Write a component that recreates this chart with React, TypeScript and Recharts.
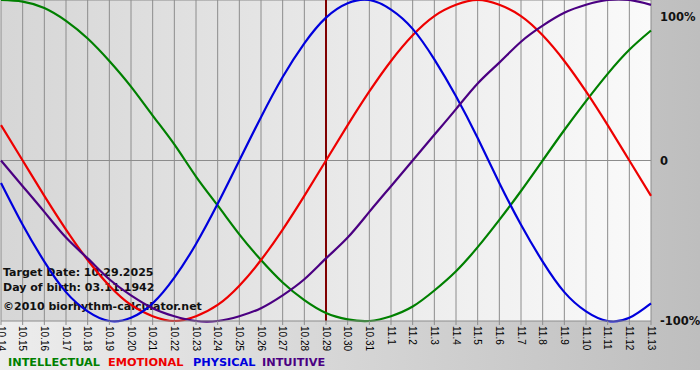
import { LineChart, Line, XAxis, YAxis, CartesianGrid, ReferenceLine } from 'recharts';

const DATES = [
  '10.14', '10.15', '10.16', '10.17', '10.18', '10.19', '10.20', '10.21', '10.22', '10.23',
  '10.24', '10.25', '10.26', '10.27', '10.28', '10.29', '10.30', '10.31', '11.1', '11.2',
  '11.3', '11.4', '11.5', '11.6', '11.7', '11.8', '11.9', '11.10', '11.11', '11.12', '11.13',
];

const PHYSICAL = [-14, -40, -63, -82, -94, -100, -98, -89, -73, -52, -27, 0, 27, 52, 73, 89, 98, 100, 94, 82, 63, 40, 14, -14, -40, -63, -82, -94, -100, -98, -89];
const EMOTIONAL = [22, 0, -22, -43, -62, -78, -90, -97, -100, -97, -90, -78, -62, -43, -22, 0, 22, 43, 62, 78, 90, 97, 100, 97, 90, 78, 62, 43, 22, 0, -22];
const INTELLECTUAL = [100, 99, 95, 87, 76, 62, 46, 28, 10, -10, -28, -46, -62, -76, -87, -95, -99, -100, -97, -91, -81, -69, -54, -37, -19, 0, 19, 37, 54, 69, 81];
const INTUITIVE = [0, -16, -32, -48, -61, -74, -84, -92, -97, -100, -100, -97, -92, -84, -74, -61, -48, -32, -16, 0, 16, 32, 48, 61, 74, 84, 92, 97, 100, 100, 97];

const TARGET_INDEX = 15;
const Y_TICKS = [-100, 0, 100];

const data = DATES.map((date, i) => ({
  i,
  date,
  physical: PHYSICAL[i],
  emotional: EMOTIONAL[i],
  intellectual: INTELLECTUAL[i],
  intuitive: INTUITIVE[i],
}));

const BOLD = '"DejaVu Sans", Verdana, sans-serif';

function DateTick({ x, y, payload }: any) {
  return (
    <text
      x={x}
      y={y}
      dy="0.35em"
      transform={`rotate(90 ${x} ${y})`}
      textAnchor="start"
      fontSize={10}
      fontFamily='"Liberation Sans", Arial, sans-serif'
      fill="#000"
    >
      {DATES[payload.value]}
    </text>
  );
}

function PercentTick({ x, y, payload }: any) {
  const v = payload.value;
  const label = v === 0 ? '0' : `${v}%`;
  return (
    <text
      x={x}
      y={v === 100 ? y + 8 : y}
      dy="0.35em"
      textAnchor="start"
      fontSize={11.5}
      fontWeight="bold"
      fontFamily={BOLD}
      fill="#111"
    >
      {label}
    </text>
  );
}

export default function App() {
  return (
    <div style={{ position: 'absolute', left: 0, top: 0, width: 700, height: 380, background: '#fff' }}>
      <div style={{ width: 700, height: 370, background: 'linear-gradient(to right, #ededed, #bebebe)' }}>
        <LineChart width={700} height={370} data={data} margin={{ top: 0, right: 0, bottom: 0, left: 1 }}>
          <defs>
            <linearGradient id="plotBg" x1="0" y1="0" x2="1" y2="0">
              <stop offset="0%" stopColor="#d6d6d6" />
              <stop offset="100%" stopColor="#fafafa" />
            </linearGradient>
          </defs>
          <CartesianGrid horizontal={false} stroke="#8c8c8c" fill="url(#plotBg)" fillOpacity={1} />
          <XAxis
            dataKey="i"
            type="number"
            domain={[0, 30]}
            ticks={DATES.map((_, i) => i)}
            interval={0}
            height={49}
            stroke="#8c8c8c"
            tickSize={4}
            tickMargin={1}
            tick={<DateTick />}
          />
          <YAxis
            orientation="right"
            domain={[-100, 100]}
            ticks={Y_TICKS}
            width={49}
            axisLine={false}
            tickLine={false}
            tickSize={0}
            tickMargin={9}
            tick={<PercentTick />}
          />
          <ReferenceLine y={100} stroke="#8c8c8c" />
          <ReferenceLine y={0} stroke="#8c8c8c" />
          <ReferenceLine x={TARGET_INDEX} stroke="#800000" strokeWidth={2} />
          <Line type="natural" dataKey="intellectual" stroke="#008000" strokeWidth={2.2} dot={false} isAnimationActive={false} />
          <Line type="natural" dataKey="emotional" stroke="#ee0000" strokeWidth={2.2} dot={false} isAnimationActive={false} />
          <Line type="natural" dataKey="physical" stroke="#0000dd" strokeWidth={2.2} dot={false} isAnimationActive={false} />
          <Line type="natural" dataKey="intuitive" stroke="#4b0082" strokeWidth={2.2} dot={false} isAnimationActive={false} />
          <g fontFamily={BOLD} fontWeight="bold" fontSize={11} fill="#111">
            <text x={3} y={276}>Target Date: 10.29.2025</text>
            <text x={3} y={291}>Day of birth: 03.11.1942</text>
            <text x={3} y={310}>©2010 biorhythm-calculator.net</text>
          </g>
          <g fontFamily={BOLD} fontWeight="bold" fontSize={11.3}>
            <text x={8} y={366} fill="#008000">INTELLECTUAL</text>
            <text x={108} y={366} fill="#ee0000">EMOTIONAL</text>
            <text x={193} y={366} fill="#0000dd">PHYSICAL</text>
            <text x={262} y={366} fill="#4b0082">INTUITIVE</text>
          </g>
        </LineChart>
      </div>
    </div>
  );
}
